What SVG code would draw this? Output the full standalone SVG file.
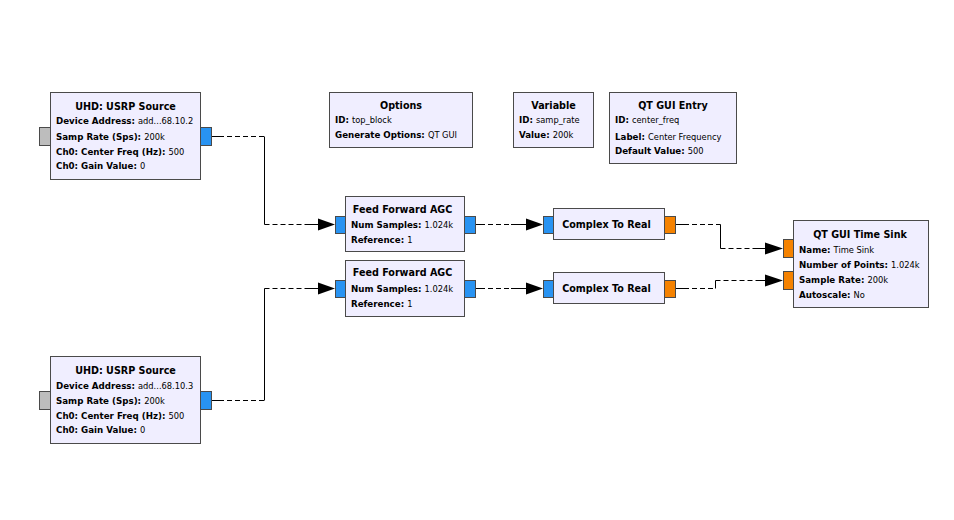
<svg xmlns="http://www.w3.org/2000/svg" width="954" height="520" viewBox="0 0 954 520">
<style>
.blk{fill:#F0EEFF;stroke:#4A4A4A;stroke-width:1}
.pin{fill:#2893F2;stroke:#4A4A4A;stroke-width:1}
.pout{fill:#F58200;stroke:#4A4A4A;stroke-width:1}
.pgray{fill:#BDBDBD;stroke:#4A4A4A;stroke-width:1}
.ttl{font-family:"DejaVu Sans",Verdana,sans-serif;font-size:9.6px;font-weight:bold;fill:#000;text-anchor:middle}
.prm{font-family:"DejaVu Sans",Verdana,sans-serif;font-size:8.7px;font-weight:bold;fill:#000}
.val{font-weight:normal;font-size:8.3px}
.dash{fill:none;stroke:#000;stroke-width:1;stroke-dasharray:5,3}
.sol{fill:none;stroke:#000;stroke-width:1}
.arr{fill:#000}
</style>
<rect width="954" height="520" fill="#fff"/>

<g id="usrp_source_0">
<rect class="pgray" x="39.5" y="127.5" width="11" height="18"/>
<rect class="pin" x="200.5" y="127.5" width="11" height="18"/>
<rect class="blk" x="50.5" y="92.5" width="150" height="87"/>
<text class="ttl" x="125.5" y="110">UHD: USRP Source</text>
<text class="prm" x="56" y="124">Device Address: <tspan class="val">add...68.10.2</tspan></text>
<text class="prm" x="56" y="139.5">Samp Rate (Sps): <tspan class="val">200k</tspan></text>
<text class="prm" x="56" y="154.5">Ch0: Center Freq (Hz): <tspan class="val">500</tspan></text>
<text class="prm" x="56" y="169">Ch0: Gain Value: <tspan class="val">0</tspan></text>
</g>

<g id="usrp_source_1">
<rect class="pgray" x="39.5" y="391.5" width="11" height="18"/>
<rect class="pin" x="200.5" y="391.5" width="11" height="18"/>
<rect class="blk" x="50.5" y="356.5" width="150" height="87"/>
<text class="ttl" x="125.5" y="374">UHD: USRP Source</text>
<text class="prm" x="56" y="388.5">Device Address: <tspan class="val">add...68.10.3</tspan></text>
<text class="prm" x="56" y="403.5">Samp Rate (Sps): <tspan class="val">200k</tspan></text>
<text class="prm" x="56" y="418.5">Ch0: Center Freq (Hz): <tspan class="val">500</tspan></text>
<text class="prm" x="56" y="433">Ch0: Gain Value: <tspan class="val">0</tspan></text>
</g>

<g id="options">
<rect class="blk" x="329.5" y="92.5" width="143" height="55"/>
<text class="ttl" x="401" y="108.5">Options</text>
<text class="prm" x="335" y="123">ID: <tspan class="val">top_block</tspan></text>
<text class="prm" x="335" y="138">Generate Options: <tspan class="val">QT GUI</tspan></text>
</g>

<g id="variable_samp_rate">
<rect class="blk" x="513.5" y="92.5" width="80" height="55"/>
<text class="ttl" x="553.5" y="108.5">Variable</text>
<text class="prm" x="519" y="123">ID: <tspan class="val">samp_rate</tspan></text>
<text class="prm" x="519" y="138">Value: <tspan class="val">200k</tspan></text>
</g>

<g id="qtgui_entry">
<rect class="blk" x="609.5" y="92.5" width="127" height="71"/>
<text class="ttl" x="673" y="108.5">QT GUI Entry</text>
<text class="prm" x="615" y="123">ID: <tspan class="val">center_freq</tspan></text>
<text class="prm" x="615" y="139.5">Label: <tspan class="val">Center Frequency</tspan></text>
<text class="prm" x="615" y="154">Default Value: <tspan class="val">500</tspan></text>
</g>

<g id="ffagc_0">
<rect class="pin" x="335.5" y="216.5" width="10" height="17"/>
<rect class="pin" x="464.5" y="216.5" width="11" height="17"/>
<rect class="blk" x="345.5" y="196.5" width="119" height="55"/>
<text class="ttl" x="402.5" y="212.5">Feed Forward AGC</text>
<text class="prm" x="351" y="227.5">Num Samples: <tspan class="val">1.024k</tspan></text>
<text class="prm" x="351" y="243">Reference: <tspan class="val">1</tspan></text>
</g>

<g id="ffagc_1">
<rect class="pin" x="335.5" y="280.5" width="10" height="17"/>
<rect class="pin" x="464.5" y="280.5" width="11" height="17"/>
<rect class="blk" x="345.5" y="260.5" width="119" height="56"/>
<text class="ttl" x="402.5" y="276">Feed Forward AGC</text>
<text class="prm" x="351" y="292">Num Samples: <tspan class="val">1.024k</tspan></text>
<text class="prm" x="351" y="307">Reference: <tspan class="val">1</tspan></text>
</g>

<g id="complex_to_real_0">
<rect class="pin" x="543.5" y="216.5" width="10" height="17"/>
<rect class="pout" x="664.5" y="216.5" width="11" height="17"/>
<rect class="blk" x="553.5" y="208.5" width="111" height="31"/>
<text class="ttl" x="606.5" y="228">Complex To Real</text>
</g>

<g id="complex_to_real_1">
<rect class="pin" x="543.5" y="280.5" width="10" height="17"/>
<rect class="pout" x="664.5" y="280.5" width="11" height="17"/>
<rect class="blk" x="553.5" y="272.5" width="111" height="31"/>
<text class="ttl" x="606.5" y="292">Complex To Real</text>
</g>

<g id="qtgui_time_sink">
<rect class="pout" x="783.5" y="239.5" width="10" height="18"/>
<rect class="pout" x="783.5" y="271.5" width="10" height="18"/>
<rect class="blk" x="793.5" y="220.5" width="135" height="87"/>
<text class="ttl" x="860" y="237.5">QT GUI Time Sink</text>
<text class="prm" x="799" y="252.5">Name: <tspan class="val">Time Sink</tspan></text>
<text class="prm" x="799" y="267.5">Number of Points: <tspan class="val">1.024k</tspan></text>
<text class="prm" x="799" y="282.5">Sample Rate: <tspan class="val">200k</tspan></text>
<text class="prm" x="799" y="298">Autoscale: <tspan class="val">No</tspan></text>
</g>

<g id="connectors">
<path class="sol" d="M212,136.5 H219"/>
<path class="dash" d="M219,136.5 H264.5"/>
<path class="sol" d="M264.5,136.5 V224.5"/>
<path class="dash" d="M264.5,224.5 H308"/>
<path class="sol" d="M308,224.5 H320"/>
<polygon class="arr" points="318,218.5 335,224.5 318,230.5"/>
<path class="sol" d="M212,400.5 H219"/>
<path class="dash" d="M219,400.5 H264.5"/>
<path class="sol" d="M264.5,400.5 V288.5"/>
<path class="dash" d="M264.5,288.5 H308"/>
<path class="sol" d="M308,288.5 H320"/>
<polygon class="arr" points="318,282.5 335,288.5 318,294.5"/>
<path class="sol" d="M476,224.5 H485"/>
<path class="dash" d="M488,224.5 H511"/>
<path class="sol" d="M511,224.5 H528"/>
<polygon class="arr" points="526,218.5 543,224.5 526,230.5"/>
<path class="sol" d="M476,288.5 H485"/>
<path class="dash" d="M488,288.5 H511"/>
<path class="sol" d="M511,288.5 H528"/>
<polygon class="arr" points="526,282.5 543,288.5 526,294.5"/>
<path class="sol" d="M676,224.5 H684"/>
<path class="dash" d="M684,224.5 H720.5"/>
<path class="sol" d="M720.5,224.5 V248.5"/>
<path class="dash" d="M720.5,248.5 H753"/>
<path class="sol" d="M753,248.5 H767"/>
<polygon class="arr" points="765,242.5 783,248.5 765,254.5"/>
<path class="sol" d="M676,288.5 H684"/>
<path class="dash" d="M684,288.5 H715.5"/>
<path class="sol" d="M715.5,288.5 V280.5"/>
<path class="dash" d="M715.5,280.5 H757"/>
<path class="sol" d="M757,280.5 H767"/>
<polygon class="arr" points="765,274.5 783,280.5 765,286.5"/>
</g>
</svg>
